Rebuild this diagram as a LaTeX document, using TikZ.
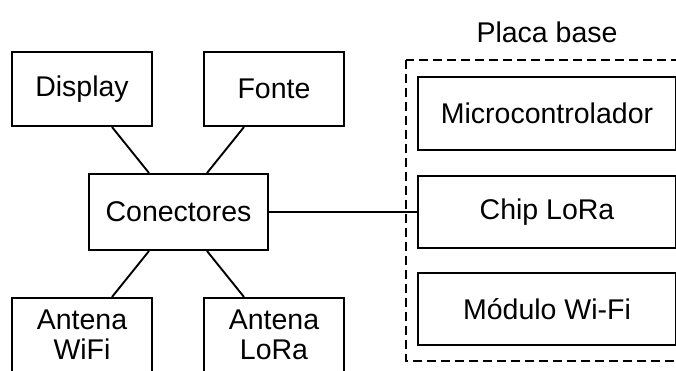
\documentclass[tikz,border=0pt]{standalone}
\usepackage{fontspec}
\setmainfont{Liberation Sans}
\usetikzlibrary{calc}
\begin{document}
\begin{tikzpicture}[x=1pt,y=-1pt,
  box/.style={draw=black,line width=2pt,fill=white,align=center,inner sep=0pt,
    font=\fontsize{28.5}{30}\selectfont,text=black},
  link/.style={draw=black,line width=1.9pt},
  group/.style={draw=black,line width=2pt,dash pattern=on 9pt off 5pt}]
\useasboundingbox (0,0) rectangle (676,370);
\clip (0,0) rectangle (676,370);
\draw[group] (406,60) rectangle (690,361);
\node[font=\fontsize{28.5}{30}\selectfont,text=black] (placa) at (547,32) {Placa base};
\node[box,minimum width=140pt,minimum height=74pt] (disp) at (82,89) {Display};
\node[box,minimum width=140pt,minimum height=74pt] (fonte) at (274,89) {Fonte};
\node[box,minimum width=179pt,minimum height=76pt] (con) at (178.5,212) {Conectores};
\node[box,minimum width=140pt,minimum height=74pt] (awifi) at (82,335) {Antena\\WiFi};
\node[box,minimum width=140pt,minimum height=74pt] (alora) at (274,335) {Antena\\LoRa};
\node[box,minimum width=258pt,minimum height=73pt] (micro) at (547,113.5) {Microcontrolador};
\node[box,minimum width=258pt,minimum height=72pt] (chip) at (547,212) {Chip LoRa};
\node[box,minimum width=258pt,minimum height=72pt] (wifi) at (547,309) {Módulo Wi-Fi};
\draw[link] ([xshift=30pt]disp.south) -- ([xshift=-29.5pt]con.north);
\draw[link] ([xshift=-30pt]fonte.south) -- ([xshift=28.5pt]con.north);
\draw[link] ([xshift=30pt]awifi.north) -- ([xshift=-29.5pt]con.south);
\draw[link] ([xshift=-30pt]alora.north) -- ([xshift=28.5pt]con.south);
\draw[link] (con.east) -- (chip.west);
\end{tikzpicture}
\end{document}
